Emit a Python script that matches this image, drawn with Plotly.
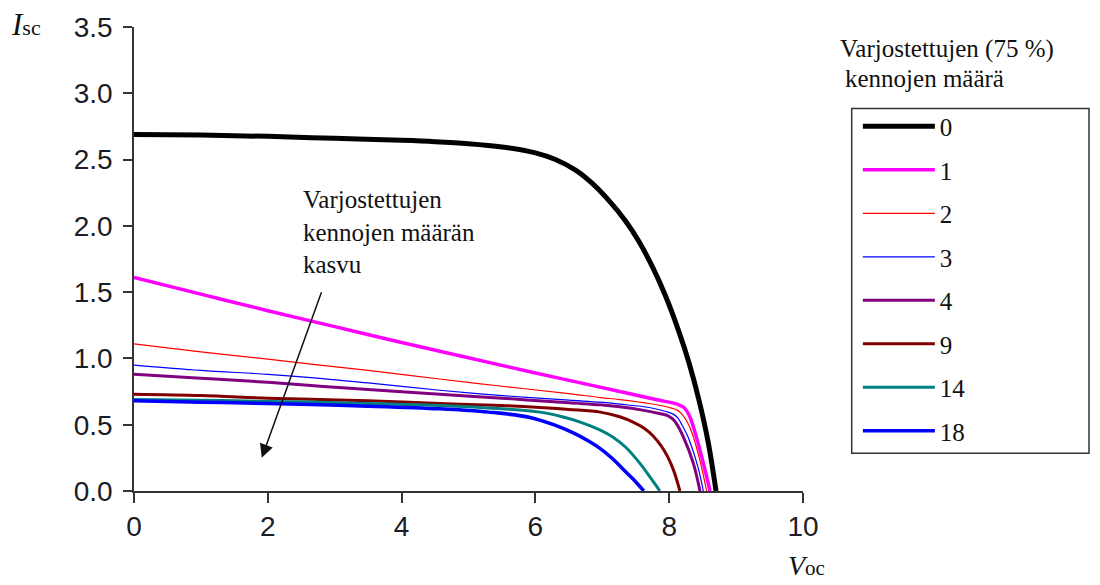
import plotly.graph_objects as go

# ---- data ----
labels = ["0", "1", "2", "3", "4", "9", "14", "18"]
colors = ["#000000", "#ff00ff", "#ff0000", "#0000ff", "#800080", "#800000", "#008080", "#0000ff"]
widths = [5, 3.5, 1.2, 1.2, 3, 3, 3, 3.5]

v_0 = [0, 1, 2, 3, 4, 4.5, 5.0, 5.5, 6.0, 6.3, 6.6, 6.85, 7.1, 7.35, 7.55, 7.75, 7.95, 8.15, 8.3, 8.45, 8.58, 8.70]
i_0 = [2.69, 2.685, 2.675, 2.66, 2.645, 2.635, 2.62, 2.595, 2.55, 2.50, 2.42, 2.32, 2.19, 2.035, 1.88, 1.69, 1.465, 1.195, 0.96, 0.675, 0.375, 0.0]

v_1 = [0, 1, 2, 3, 4, 5, 6, 7, 7.8, 8.12, 8.22, 8.3, 8.37, 8.5, 8.61]
i_1 = [1.61, 1.485, 1.36, 1.24, 1.12, 1.005, 0.89, 0.78, 0.69, 0.655, 0.63, 0.57, 0.47, 0.23, 0.0]

v_2 = [0, 1, 2, 2.78, 3.5, 4.57, 5.5, 6.5, 6.97, 7.26, 7.7, 8.0, 8.12, 8.2, 8.27, 8.34, 8.45, 8.56]
i_2 = [1.11, 1.05, 0.995, 0.95, 0.91, 0.845, 0.79, 0.735, 0.705, 0.69, 0.66, 0.63, 0.61, 0.575, 0.52, 0.44, 0.25, 0.0]

v_3 = [0, 1, 2, 2.78, 3.5, 4.57, 5.5, 6.5, 6.97, 7.26, 7.7, 7.95, 8.06, 8.13, 8.2, 8.28, 8.43, 8.51]
i_3 = [0.95, 0.91, 0.88, 0.85, 0.815, 0.76, 0.72, 0.685, 0.67, 0.655, 0.63, 0.60, 0.58, 0.55, 0.49, 0.41, 0.18, 0.0]

v_4 = [0, 1, 2, 2.78, 3.5, 4.57, 5.5, 6.5, 6.97, 7.26, 7.6, 7.85, 7.97, 8.06, 8.13, 8.21, 8.36, 8.46]
i_4 = [0.88, 0.85, 0.82, 0.79, 0.765, 0.73, 0.70, 0.665, 0.65, 0.635, 0.61, 0.585, 0.57, 0.54, 0.49, 0.41, 0.21, 0.0]

v_9 = [0, 1, 2, 2.78, 3.5, 4.57, 5.5, 6.07, 6.5, 6.97, 7.26, 7.46, 7.62, 7.76, 7.88, 7.98, 8.07, 8.16]
i_9 = [0.73, 0.72, 0.70, 0.69, 0.68, 0.66, 0.645, 0.63, 0.615, 0.595, 0.56, 0.52, 0.475, 0.415, 0.34, 0.255, 0.15, 0.0]

v_14 = [0, 1, 2, 2.78, 3.5, 4.57, 5.5, 6.07, 6.4, 6.67, 6.97, 7.15, 7.35, 7.56, 7.72, 7.86]
i_14 = [0.69, 0.685, 0.675, 0.67, 0.66, 0.645, 0.62, 0.595, 0.56, 0.52, 0.46, 0.41, 0.33, 0.21, 0.10, 0.0]

v_18 = [0, 1, 2, 2.78, 3.5, 4.57, 5.3, 5.92, 6.3, 6.56, 6.8, 6.97, 7.15, 7.3, 7.46, 7.62]
i_18 = [0.68, 0.67, 0.66, 0.65, 0.64, 0.62, 0.595, 0.555, 0.495, 0.44, 0.375, 0.32, 0.245, 0.17, 0.09, 0.0]

xs = [v_0, v_1, v_2, v_3, v_4, v_9, v_14, v_18]
ys = [i_0, i_1, i_2, i_3, i_4, i_9, i_14, i_18]

x_ticks = [0, 2, 4, 6, 8, 10]
y_ticks = [0.0, 0.5, 1.0, 1.5, 2.0, 2.5, 3.0, 3.5]

SERIF = "Liberation Serif, Times New Roman, serif"
SANS = "Liberation Sans, Arial, sans-serif"

fig = go.Figure()
for k in range(len(labels)):
    fig.add_trace(go.Scatter(
        x=xs[k], y=ys[k], mode="lines", name=labels[k],
        legendgroup=labels[k],
        line=dict(color=colors[k], width=widths[k], shape="spline", smoothing=1.0),
    ))

fig.update_layout(
    width=1100, height=585,
    margin=dict(l=134, r=297, t=24, b=94),
    paper_bgcolor="white", plot_bgcolor="white",
    showlegend=True,
    legend=dict(
        x=1.082, y=0.835, xanchor="left", yanchor="top",
        font=dict(family=SERIF, size=25, color="#111"),
        itemwidth=72, tracegroupgap=8, bgcolor="rgba(0,0,0,0)",
        borderwidth=0,
    ),
    xaxis=dict(
        range=[0, 10], tickvals=x_ticks, ticktext=[str(v) for v in x_ticks],
        showgrid=False, zeroline=False, showline=True, linecolor="#333", linewidth=1.5,
        ticks="outside", ticklen=10, tickwidth=1.5, tickcolor="#333",
        tickfont=dict(family=SANS, size=28, color="#1c1c24"),
        ticklabelstandoff=0,
    ),
    yaxis=dict(
        range=[0, 3.5], tickvals=y_ticks, ticktext=[f"{v:.1f}" for v in y_ticks],
        showgrid=False, zeroline=False, showline=True, linecolor="#333", linewidth=1.5,
        ticks="outside", ticklen=9, tickwidth=1.5, tickcolor="#333",
        tickfont=dict(family=SANS, size=28, color="#1c1c24"),
        ticklabelstandoff=5,
    ),
)

# legend box
fig.add_shape(type="rect", xref="paper", yref="paper",
              x0=1.0728, x1=1.4275, y0=0.0814, y1=0.8244,
              line=dict(color="#333", width=1.5), fillcolor="rgba(0,0,0,0)")

# legend title (outside the box)
fig.add_annotation(xref="paper", yref="paper", x=1.0523, y=0.9529, xanchor="left", yanchor="middle",
                   text="Varjostettujen (75 %)", showarrow=False,
                   font=dict(family=SERIF, size=25, color="#111"))
fig.add_annotation(xref="paper", yref="paper", x=1.0598, y=0.8887, xanchor="left", yanchor="middle",
                   text="kennojen määrä", showarrow=False,
                   font=dict(family=SERIF, size=25, color="#111"))

# axis titles
fig.add_annotation(xref="paper", yref="paper", x=-0.187, y=1.006, xanchor="left", yanchor="middle",
                   text="<i>I</i><span style='font-size:22px'>sc</span>", showarrow=False,
                   font=dict(family=SERIF, size=31, color="#111"))
fig.add_annotation(xref="paper", yref="paper", x=0.9746, y=-0.160, xanchor="left", yanchor="middle",
                   text="<i>V</i><span style='font-size:21px'>oc</span>", showarrow=False,
                   font=dict(family=SERIF, size=28, color="#111"))

# text annotation and arrow
fig.add_annotation(x=2.50, y=2.316, xref="x", yref="y", xanchor="left", yanchor="top", align="left",
                   text="Varjostettujen<br>kennojen määrän<br>kasvu", showarrow=False,
                   font=dict(family=SERIF, size=25, color="#111"))
fig.add_annotation(x=1.91, y=0.25, ax=2.81, ay=1.51, xref="x", yref="y", axref="x", ayref="y",
                   text="", showarrow=True, arrowhead=2, arrowsize=1.8, arrowwidth=1.5,
                   arrowcolor="#111")

fig.write_html("out.html")
